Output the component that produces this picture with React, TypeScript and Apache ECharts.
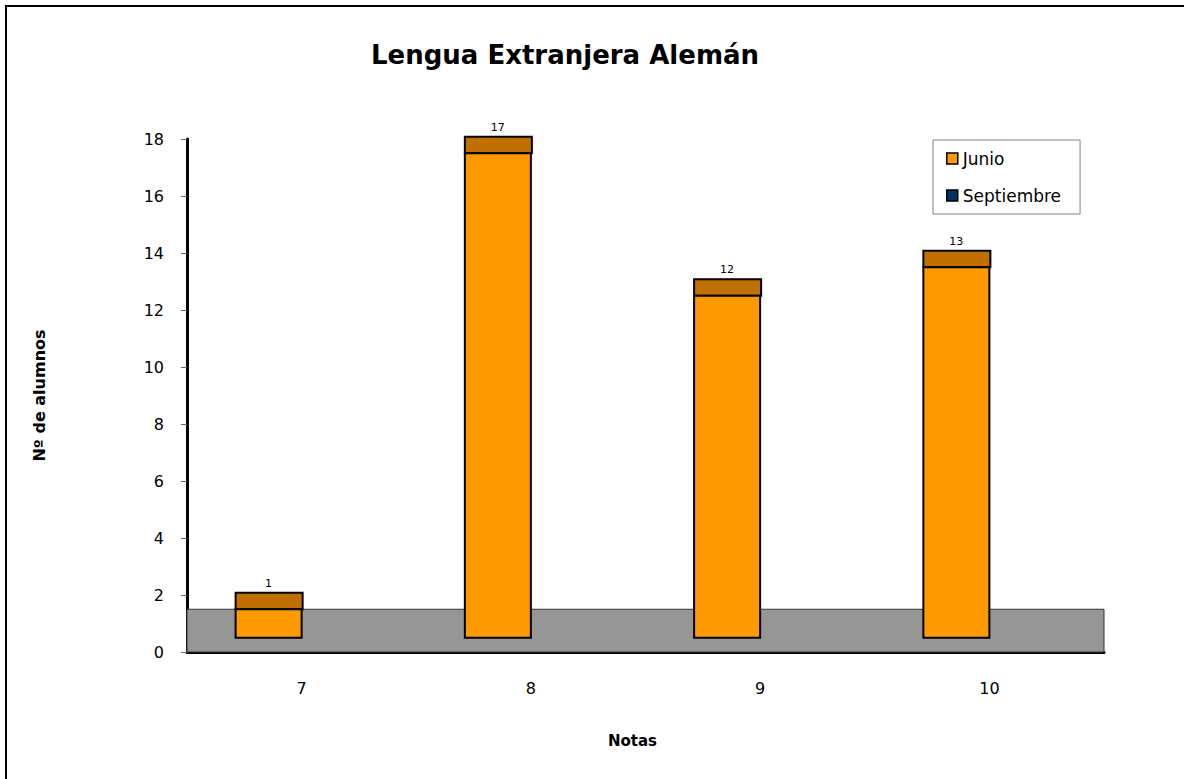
import React, { useEffect, useRef } from "react";
import * as echarts from "echarts";

const categories = ["7", "8", "9", "10"];
const junio = [1, 17, 12, 13];
const septiembre = [0, 0, 0, 0];
const seriesNames = ["Junio", "Septiembre"];
const titleText = "Lengua Extranjera Alemán";
const yName = "Nº de alumnos";
const xName = "Notas";

// 3D look parameters (in axis units)
const BASE = 0.5;
const TOP_DEPTH = 0.58;
const FLOOR = 1.5;
const BAR_FRAC = 0.288;

const FONT = "DejaVu Sans";

export default function App() {
  const ref = useRef<HTMLDivElement>(null);
  useEffect(() => {
    document.body.style.margin = "0";
    const chart = echarts.init(ref.current!, null, { renderer: "svg" });
    chart.setOption({
      animation: false,
      backgroundColor: "#ffffff",
      title: {
        text: titleText,
        left: 560,
        textAlign: "center",
        top: 37,
        textStyle: { fontFamily: FONT, fontSize: 26, fontWeight: "bold", color: "#000" },
      },
      graphic: [
        {
          type: "rect",
          shape: { x: 6, y: 6, width: 1300, height: 900 },
          style: { fill: "none", stroke: "#000", lineWidth: 2 },
          silent: true,
          z: 100,
        },
      ],
      legend: {
        orient: "vertical",
        left: 933,
        top: 140,
        padding: [10, 19, 10, 13],
        itemGap: 20,
        itemWidth: 11,
        itemHeight: 11,
        icon: "rect",
        backgroundColor: "#fff",
        borderColor: "#808080",
        borderWidth: 1,
        itemStyle: { borderColor: "#000", borderWidth: 1.5 },
        textStyle: { fontFamily: FONT, fontSize: 17, color: "#000" },
        data: seriesNames,
      },
      grid: { left: 187, right: 80, top: 139, bottom: 127 },
      xAxis: {
        type: "category",
        data: categories,
        name: xName,
        nameLocation: "middle",
        nameGap: 81,
        nameTextStyle: { fontFamily: FONT, fontSize: 15, fontWeight: "bold", color: "#000", padding: [0, 26, 0, 0] },
        axisLine: { lineStyle: { color: "#000", width: 3 } },
        axisTick: { length: 8, lineStyle: { color: "#666", width: 1 } },
        axisLabel: { fontFamily: FONT, fontSize: 16, color: "#000", margin: 28 },
      },
      yAxis: {
        type: "value",
        min: 0,
        max: 18,
        interval: 2,
        name: yName,
        nameLocation: "middle",
        nameGap: 140,
        nameTextStyle: { fontFamily: FONT, fontSize: 16, fontWeight: "bold", color: "#000" },
        axisLine: { show: true, lineStyle: { color: "#000", width: 3 } },
        axisTick: { show: true, length: 6, lineStyle: { color: "#666", width: 1 } },
        axisLabel: { fontFamily: FONT, fontSize: 16, color: "#000", margin: 23 },
        splitLine: { show: false },
      },
      series: [
        {
          name: seriesNames[0],
          type: "custom",
          itemStyle: { color: "#FF9900" },
          z: 5,
          data: junio.map((v, i) => [i, v]),
          renderItem: (params: any, api: any) => {
            const idx = api.value(0);
            const v = api.value(1);
            const band = api.size([1, 0])[0];
            const w = band * BAR_FRAC;
            const [cx, yBase] = api.coord([idx, BASE]);
            const [, yFront] = api.coord([idx, v + BASE]);
            const [, yTop] = api.coord([idx, v + BASE + TOP_DEPTH]);
            const x0 = cx - w;
            return {
              type: "group",
              children: [
                {
                  type: "rect",
                  shape: { x: x0, y: yTop, width: w + 1, height: yFront - yTop },
                  style: { fill: "#C07000", stroke: "#000", lineWidth: 2 },
                },
                {
                  type: "rect",
                  shape: { x: x0, y: yFront, width: w, height: yBase - yFront },
                  style: { fill: "#FF9900", stroke: "#000", lineWidth: 2 },
                },
                {
                  type: "text",
                  x: x0 + w / 2,
                  y: yTop - 4,
                  style: {
                    text: String(v),
                    fill: "#000",
                    fontFamily: FONT,
                    fontSize: 11,
                    align: "center",
                    verticalAlign: "bottom",
                  },
                },
              ],
            };
          },
        },
        {
          name: seriesNames[1],
          type: "bar",
          itemStyle: { color: "#003366" },
          data: septiembre,
          z: 1,
          markArea: {
            silent: true,
            itemStyle: { color: "#969696", borderColor: "#333", borderWidth: 1, opacity: 1 },
            data: [[{ yAxis: 0 }, { yAxis: FLOOR }]],
          },
        },
      ],
    });
    return () => chart.dispose();
  }, []);
  return <div ref={ref} style={{ width: 1184, height: 779 }} />;
}
